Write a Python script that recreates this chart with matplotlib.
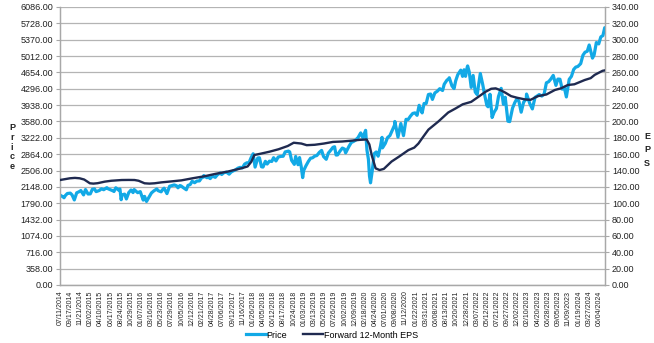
import matplotlib
matplotlib.use("Agg")
import matplotlib.pyplot as plt
import matplotlib.dates as mdates
import numpy as np
import pandas as pd

plt.rcParams['font.family'] = ['Liberation Sans', 'DejaVu Sans']

# ---- Data ----
price_dates = [
    "2014-07-11","2014-07-31","2014-08-07","2014-08-15","2014-08-29","2014-09-18","2014-09-30","2014-10-15","2014-10-31","2014-11-14","2014-11-28","2014-12-16","2014-12-29",
    "2015-01-15","2015-01-30","2015-02-13","2015-02-27","2015-03-10","2015-03-31","2015-04-15","2015-04-30","2015-05-21","2015-05-29","2015-06-15","2015-06-30","2015-07-08","2015-07-20","2015-07-31","2015-08-07","2015-08-17","2015-08-25","2015-08-31","2015-09-17","2015-09-29","2015-10-15","2015-10-30","2015-11-13","2015-11-20","2015-12-14","2015-12-31",
    "2016-01-20","2016-01-29","2016-02-11","2016-02-29","2016-03-15","2016-03-31","2016-04-20","2016-04-29","2016-05-19","2016-05-31","2016-06-08","2016-06-27","2016-07-15","2016-07-29","2016-08-15","2016-08-31","2016-09-09","2016-09-22","2016-09-30","2016-10-14","2016-11-04","2016-11-15","2016-11-30","2016-12-13","2016-12-30",
    "2017-01-13","2017-01-31","2017-02-15","2017-02-28","2017-03-01","2017-03-22","2017-03-31","2017-04-13","2017-04-28","2017-05-17","2017-05-31","2017-06-19","2017-06-29","2017-07-14","2017-07-31","2017-08-18","2017-08-31","2017-09-15","2017-09-29","2017-10-16","2017-10-31","2017-11-15","2017-11-30","2017-12-15","2017-12-29",
    "2018-01-12","2018-01-26","2018-02-08","2018-02-26","2018-03-09","2018-03-23","2018-04-02","2018-04-18","2018-04-30","2018-05-15","2018-05-31","2018-06-12","2018-06-28","2018-07-13","2018-07-31","2018-08-15","2018-08-29","2018-09-20","2018-09-28","2018-10-11","2018-10-29","2018-11-07","2018-11-23","2018-12-03","2018-12-14","2018-12-24","2018-12-31",
    "2019-01-15","2019-01-31","2019-02-15","2019-02-28","2019-03-15","2019-03-29","2019-04-15","2019-04-30","2019-05-13","2019-05-31","2019-06-14","2019-06-28","2019-07-15","2019-07-26","2019-08-05","2019-08-15","2019-08-30","2019-09-16","2019-09-30","2019-10-08","2019-10-31","2019-11-15","2019-11-29","2019-12-13","2019-12-31",
    "2020-01-17","2020-01-31","2020-02-19","2020-02-28","2020-03-09","2020-03-16","2020-03-23","2020-04-03","2020-04-17","2020-04-30","2020-05-13","2020-05-29","2020-06-08","2020-06-11","2020-06-30","2020-07-15","2020-07-31","2020-08-14","2020-08-31","2020-09-02","2020-09-23","2020-10-12","2020-10-30","2020-11-16","2020-11-30","2020-12-15","2020-12-31",
    "2021-01-15","2021-01-29","2021-02-12","2021-02-26","2021-03-04","2021-03-17","2021-03-31","2021-04-15","2021-04-30","2021-05-12","2021-05-28","2021-06-15","2021-06-30","2021-07-19","2021-07-30","2021-08-16","2021-08-31","2021-09-02","2021-09-20","2021-10-04","2021-10-15","2021-10-29","2021-11-18","2021-11-30","2021-12-10","2021-12-20","2021-12-31",
    "2022-01-03","2022-01-14","2022-01-27","2022-02-09","2022-02-23","2022-03-08","2022-03-29","2022-04-14","2022-04-29","2022-05-12","2022-05-20","2022-06-02","2022-06-16","2022-06-30","2022-07-15","2022-07-29","2022-08-16","2022-08-31","2022-09-12","2022-09-30","2022-10-12","2022-10-31","2022-11-15","2022-11-30","2022-12-13","2022-12-28",
    "2023-01-13","2023-01-31","2023-02-02","2023-02-24","2023-03-13","2023-03-31","2023-04-14","2023-04-28","2023-05-15","2023-05-31","2023-06-15","2023-06-30","2023-07-14","2023-07-31","2023-08-18","2023-08-31","2023-09-14","2023-09-29","2023-10-13","2023-10-27","2023-11-15","2023-11-30","2023-12-15","2023-12-29",
    "2024-01-12","2024-01-31","2024-02-15","2024-02-29","2024-03-15","2024-03-28","2024-04-19","2024-04-30","2024-05-15","2024-05-31","2024-06-14","2024-06-28","2024-07-10","2024-07-12",
]
price_values = [
    1968,1931,1910,1955,2003,2011,1972,1862,2018,2039,2067,1972,2090,
    1992,1995,2096,2104,2044,2068,2106,2086,2131,2107,2084,2063,2047,2128,2104,2078,2102,1867,1972,1990,1884,2023,2079,2023,2089,2021,2044,
    1859,1940,1829,1932,2015,2060,2102,2065,2040,2097,2119,2001,2162,2174,2191,2171,2128,2177,2168,2133,2085,2180,2199,2271,2239,
    2275,2279,2350,2364,2396,2349,2363,2329,2384,2357,2412,2453,2419,2459,2470,2426,2472,2500,2519,2558,2575,2565,2647,2676,2674,
    2786,2873,2581,2780,2786,2588,2582,2708,2648,2711,2705,2787,2716,2801,2816,2818,2914,2931,2914,2728,2641,2814,2633,2790,2600,2351,2507,
    2610,2704,2776,2784,2822,2834,2905,2946,2812,2752,2887,2942,3014,3026,2845,2848,2926,2998,2977,2893,3038,3120,3141,3169,3231,
    3330,3226,3386,2954,2747,2386,2237,2489,2875,2912,2820,3044,3232,3002,3100,3227,3271,3373,3500,3580,3237,3535,3270,3627,3622,3695,3756,
    3768,3714,3934,3811,3768,3974,3973,4170,4181,4063,4204,4246,4298,4258,4395,4479,4523,4537,4358,4300,4471,4605,4704,4567,4712,4568,4766,
    4796,4663,4326,4587,4225,4170,4631,4392,4132,3930,3901,4176,3667,3785,3863,4130,4305,3955,4110,3586,3577,3872,3992,4080,4019,3783,
    3999,4077,4180,3970,3855,4109,4137,4169,4136,4180,4426,4450,4505,4589,4370,4508,4505,4288,4327,4117,4503,4568,4719,4770,
    4784,4846,5030,5096,5117,5254,4967,5036,5308,5278,5432,5460,5633,5615,
]

eps_dates = [
    "2014-07-11","2014-08-15","2014-09-15","2014-10-19","2014-11-20","2014-12-20","2015-01-10","2015-01-27","2015-02-20","2015-03-20","2015-05-07","2015-06-20","2015-08-29","2015-10-15","2015-11-23","2015-12-20",
    "2016-01-29","2016-03-01","2016-04-05","2016-05-20","2016-07-15","2016-10-03","2016-12-15","2017-03-06","2017-05-20","2017-08-06","2017-11-08","2017-12-20",
    "2018-01-14","2018-02-03","2018-03-15","2018-05-15","2018-07-15","2018-09-15","2018-10-25","2018-12-15","2019-01-20","2019-03-15","2019-05-15","2019-07-15","2019-09-15","2019-11-15",
    "2020-01-10","2020-02-26","2020-03-15","2020-04-01","2020-04-26","2020-05-23","2020-06-20","2020-08-11","2020-09-30","2020-12-02","2021-01-10","2021-02-07","2021-03-10","2021-04-15","2021-06-21","2021-08-26","2021-10-15","2021-12-01",
    "2022-01-27","2022-03-15","2022-04-30","2022-06-10","2022-07-10","2022-08-15","2022-09-15","2022-10-21","2022-12-01","2023-01-22","2023-03-01","2023-04-19","2023-06-15","2023-08-11","2023-09-20","2023-11-06","2023-12-20",
    "2024-02-27","2024-04-07","2024-05-04","2024-06-26","2024-07-12",
]
eps_values = [
    128.4,129.5,130.5,131.0,130.5,129.0,126.5,124.4,124.0,124.5,126.4,127.5,128.4,128.5,128.4,127.5,
    124.4,124.0,124.4,125.5,126.5,128.0,130.5,133.0,136.0,138.6,142.7,145.0,
    150.8,159.0,160.5,163.0,166.0,170.0,174.0,173.0,171.0,171.5,173.0,175.0,175.5,176.5,
    177.5,178.0,172.0,158.0,142.7,140.6,142.0,151.0,157.0,165.0,168.0,173.0,181.0,190.0,200.0,211.0,216.0,221.0,
    224.0,230.0,236.0,240.0,240.5,238.0,235.0,231.0,229.0,227.0,226.5,231.0,233.0,238.5,240.5,244.6,245.5,
    250.7,253.0,257.0,262.0,262.5,
]

tick_labels = [
    "07/11/2014","09/17/2014","11/21/2014","02/02/2015","04/10/2015","06/17/2015","08/24/2015","10/29/2015",
    "01/07/2016","03/16/2016","05/23/2016","07/29/2016","10/05/2016","12/12/2016","02/21/2017","04/28/2017",
    "07/06/2017","09/12/2017","11/16/2017","01/26/2018","04/05/2018","06/12/2018","08/17/2018","10/24/2018",
    "01/03/2019","03/13/2019","05/20/2019","07/26/2019","10/02/2019","12/09/2019","02/18/2020","04/24/2020",
    "07/01/2020","09/08/2020","11/12/2020","01/22/2021","03/31/2021","06/08/2021","08/13/2021","10/20/2021",
    "12/28/2021","03/07/2022","05/12/2022","07/21/2022","09/27/2022","12/02/2022","02/10/2023","04/20/2023",
    "06/28/2023","09/05/2023","11/09/2023","01/19/2024","03/27/2024","06/04/2024",
]

price_ticks = [358 * i for i in range(18)]
eps_ticks = [20 * i for i in range(18)]

# ---- Figure ----
W, H, DPI = 654, 343, 100
fig = plt.figure(figsize=(W / DPI, H / DPI), dpi=DPI)
ax = fig.add_axes([60 / W, 1 - 285 / H, (605 - 60) / W, (285 - 7) / H])
ax2 = ax.twinx()

pdates = pd.to_datetime(price_dates)
edates = pd.to_datetime(eps_dates)
tdates = pd.to_datetime(tick_labels, format="%m/%d/%Y")

price_color = "#12A9E6"
eps_color = "#1F2A50"
grid_color = "#B4B4B4"
spine_color = "#A8A8A8"

ax.plot(pdates, price_values, color=price_color, lw=2.3, label="Price", zorder=3)
ax2.plot(edates, eps_values, color=eps_color, lw=1.7, label="Forward 12-Month EPS", zorder=3)

ax.set_ylim(0, 6086)
ax2.set_ylim(0, 340)
ax.set_yticks(price_ticks)
ax.set_yticklabels([f"{v:.2f}" for v in price_ticks])
ax2.set_yticks(eps_ticks)
ax2.set_yticklabels([f"{v:.2f}" for v in eps_ticks])

ax.set_xlim(pdates[0], pdates[-1])
ax.set_xticks(tdates)
ax.set_xticklabels(tick_labels, rotation=90, fontsize=5, color="#222222", va="top", ha="center")

ax.grid(axis="y", color=grid_color, lw=0.9)
ax.set_axisbelow(True)

for a in (ax, ax2):
    a.spines["top"].set_visible(False)
    for s in ("left", "right", "bottom"):
        a.spines[s].set_color(spine_color)
        a.spines[s].set_linewidth(0.9)

ax.tick_params(axis="y", labelsize=6.5, colors="#222222", length=3, color=spine_color, pad=2)
ax.tick_params(axis="x", length=0, pad=4)
ax2.tick_params(axis="y", labelsize=6.5, colors="#222222", length=3, color=spine_color, pad=2)

fig.text(12 / W, 1 - 147 / H, "P\nr\ni\nc\ne", ha="center", va="center",
         fontsize=6.5, fontweight="bold", linespacing=1.1, color="#222222")
fig.text(647 / W, 1 - 150 / H, "E\nP\nS", ha="center", va="center",
         fontsize=6.5, fontweight="bold", linespacing=1.65, color="#222222")

h1, l1 = ax.get_legend_handles_labels()
h2, l2 = ax2.get_legend_handles_labels()
fig.legend(h1 + h2, l1 + l2, loc="center", bbox_to_anchor=(332 / W, 1 - 335 / H),
           ncol=2, frameon=False, fontsize=6.5, handlelength=2.2, handletextpad=0.1,
           columnspacing=1.8)

fig.savefig("out.png", dpi=DPI)
